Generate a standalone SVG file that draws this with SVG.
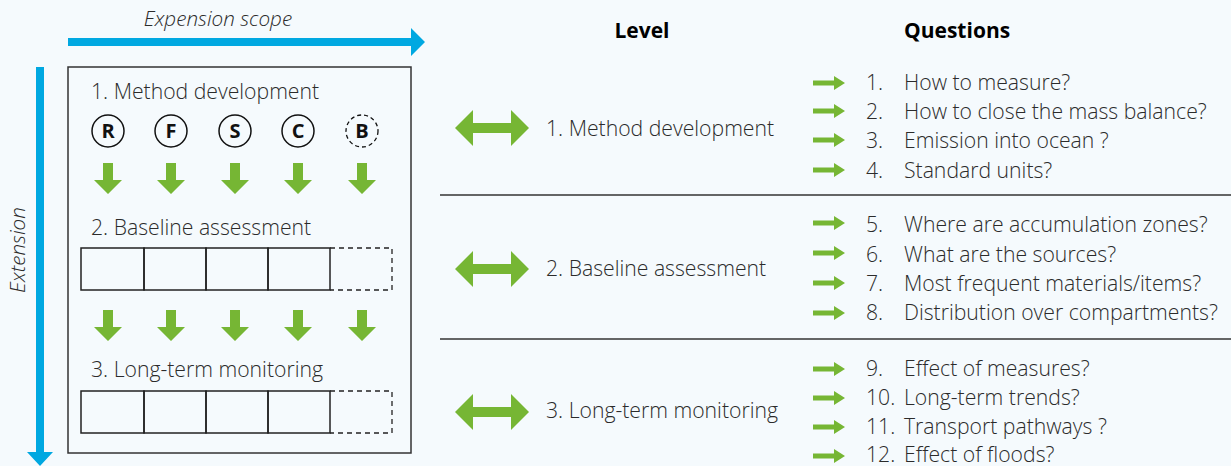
<svg xmlns="http://www.w3.org/2000/svg" width="1231" height="466" viewBox="0 0 1231 466">
  <style>
    text { font-family: "Open Sans", "Liberation Sans", sans-serif; fill: #2b2b2b; }
    .lbl { font-size: 21.2px; font-weight: 300; }
    .q { font-size: 21.2px; font-weight: 300; }
    .head { font-size: 21px; font-weight: bold; fill: #000000; }
    .axis { font-size: 20.7px; font-style: italic; font-weight: 300; }
    .letter { font-size: 20px; font-weight: bold; fill: #111111; text-anchor: middle; }
    .circ { fill: none; stroke: #111111; stroke-width: 1.5; }
    .circ-dash { fill: none; stroke: #111111; stroke-width: 1.3; stroke-dasharray: 4 3; }
    .cell { fill: none; stroke: #222222; stroke-width: 1.5; }
    .cell-dash { fill: none; stroke: #222222; stroke-width: 1.3; stroke-dasharray: 5 4; }
    .sep { stroke: #333333; stroke-width: 1.5; }
    .green { fill: #76b634; }
    .blue { fill: #00a8e1; }
  </style>
  <defs>
    <!-- downward block arrow, origin at top centre -->
    <path id="down" d="M-5,0 H5 V17 H14 L0,31 L-14,17 H-5 Z"/>
    <!-- horizontal double-headed arrow, origin at centre -->
    <path id="both" d="M-37,0 L-19,-18 V-5 H19 V-18 L37,0 L19,18 V5 H-19 V18 Z"/>
    <!-- small right arrow for question bullets, origin at left centre -->
    <path id="bullet" d="M0,-2.5 H21 V-7 L32,0 L21,7 V2.5 H0 Z"/>
  </defs>

  <rect width="1231" height="466" fill="#f5fafd"/>

  <!-- axes -->
  <g id="axes">
    <path class="blue" d="M68,38 H411 V28 L425,42 L411,56 V46 H68 Z"/>
    <text class="axis" x="218" y="26" text-anchor="middle">Expension scope</text>
    <path class="blue" d="M36,67 H44 V452 H53 L40,466 L27,452 H36 Z"/>
    <text class="axis" transform="translate(25,250) rotate(-90)" text-anchor="middle">Extension</text>
  </g>

  <!-- scheme box -->
  <g id="scheme">
    <rect x="68" y="67" width="343" height="386" fill="none" stroke="#333333" stroke-width="1.5"/>
    <text class="lbl" x="91" y="99">1. Method development</text>
    <g id="compartments">
      <circle class="circ" cx="108" cy="131" r="16"/><text class="letter" x="108" y="138">R</text>
      <circle class="circ" cx="171" cy="131" r="16"/><text class="letter" x="171" y="138">F</text>
      <circle class="circ" cx="235" cy="131" r="16"/><text class="letter" x="235" y="138">S</text>
      <circle class="circ" cx="298" cy="131" r="16"/><text class="letter" x="298" y="138">C</text>
      <circle class="circ-dash" cx="362" cy="131" r="16"/><text class="letter" x="362" y="138">B</text>
    </g>
    <g id="arrows-1" class="green">
      <use href="#down" x="108" y="163"/>
      <use href="#down" x="171" y="163"/>
      <use href="#down" x="235" y="163"/>
      <use href="#down" x="298" y="163"/>
      <use href="#down" x="362" y="163"/>
    </g>
    <text class="lbl" x="91" y="235">2. Baseline assessment</text>
    <g id="row-2">
      <rect class="cell" x="81" y="248" width="63" height="42"/>
      <rect class="cell" x="144" y="248" width="62" height="42"/>
      <rect class="cell" x="206" y="248" width="62" height="42"/>
      <rect class="cell" x="268" y="248" width="62" height="42"/>
      <path class="cell-dash" d="M330,248 H392 V290 H330"/>
    </g>
    <g id="arrows-2" class="green">
      <use href="#down" x="108" y="310"/>
      <use href="#down" x="171" y="310"/>
      <use href="#down" x="235" y="310"/>
      <use href="#down" x="298" y="310"/>
      <use href="#down" x="362" y="310"/>
    </g>
    <text class="lbl" x="91" y="377">3. Long-term monitoring</text>
    <g id="row-3">
      <rect class="cell" x="81" y="391" width="63" height="42"/>
      <rect class="cell" x="144" y="391" width="62" height="42"/>
      <rect class="cell" x="206" y="391" width="62" height="42"/>
      <rect class="cell" x="268" y="391" width="62" height="42"/>
      <path class="cell-dash" d="M330,391 H392 V433 H330"/>
    </g>
  </g>

  <!-- column headings -->
  <text class="head" x="642" y="38" text-anchor="middle">Level</text>
  <text class="head" x="904" y="38">Questions</text>

  <!-- row separators -->
  <g id="separators">
    <line class="sep" x1="440" y1="195" x2="1231" y2="195"/>
    <line class="sep" x1="440" y1="339" x2="1231" y2="339"/>
  </g>

  <!-- level links -->
  <g id="connectors" class="green">
    <use href="#both" x="492" y="128"/>
    <use href="#both" x="492" y="269"/>
    <use href="#both" x="492" y="412"/>
  </g>

  <g id="level-1">
    <text class="lbl" x="546" y="136">1. Method development</text>
  </g>
  <g id="level-2">
    <text class="lbl" x="546" y="276">2. Baseline assessment</text>
  </g>
  <g id="level-3">
    <text class="lbl" x="546" y="418">3. Long-term monitoring</text>
  </g>

  <!-- questions -->
  <g id="questions-1">
    <g class="green">
      <use href="#bullet" x="813" y="83"/>
      <use href="#bullet" x="813" y="111"/>
      <use href="#bullet" x="813" y="140"/>
      <use href="#bullet" x="813" y="170"/>
    </g>
    <text class="q" x="866" y="90">1.</text><text class="q" x="904" y="90">How to measure?</text>
    <text class="q" x="866" y="119">2.</text><text class="q" x="904" y="119">How to close the mass balance?</text>
    <text class="q" x="866" y="148">3.</text><text class="q" x="904" y="148">Emission into ocean ?</text>
    <text class="q" x="866" y="178">4.</text><text class="q" x="904" y="178">Standard units?</text>
  </g>
  <g id="questions-2">
    <g class="green">
      <use href="#bullet" x="813" y="223"/>
      <use href="#bullet" x="813" y="253"/>
      <use href="#bullet" x="813" y="283"/>
      <use href="#bullet" x="813" y="313"/>
    </g>
    <text class="q" x="866" y="232">5.</text><text class="q" x="904" y="232">Where are accumulation zones?</text>
    <text class="q" x="866" y="262">6.</text><text class="q" x="904" y="262">What are the sources?</text>
    <text class="q" x="866" y="291">7.</text><text class="q" x="904" y="291">Most frequent materials/items?</text>
    <text class="q" x="866" y="320">8.</text><text class="q" x="904" y="320">Distribution over compartments?</text>
  </g>
  <g id="questions-3">
    <g class="green">
      <use href="#bullet" x="813" y="369"/>
      <use href="#bullet" x="813" y="398"/>
      <use href="#bullet" x="813" y="427"/>
      <use href="#bullet" x="813" y="456"/>
    </g>
    <text class="q" x="866" y="376">9.</text><text class="q" x="904" y="376">Effect of measures?</text>
    <text class="q" x="866" y="405">10.</text><text class="q" x="904" y="405">Long-term trends?</text>
    <text class="q" x="866" y="434">11.</text><text class="q" x="904" y="434">Transport pathways ?</text>
    <text class="q" x="866" y="462">12.</text><text class="q" x="904" y="462">Effect of floods?</text>
  </g>
</svg>
